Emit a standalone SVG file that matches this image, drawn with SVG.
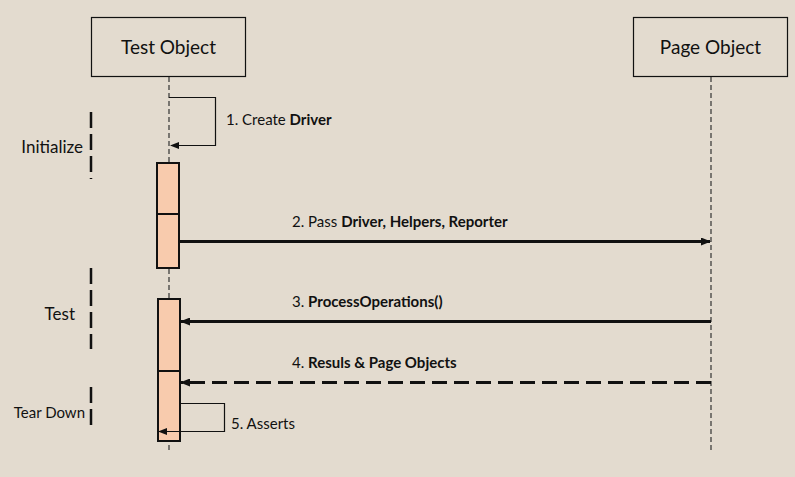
<svg xmlns="http://www.w3.org/2000/svg" width="795" height="477" viewBox="0 0 795 477">
<defs>
<style>
.t{font-family:Lato,"Open Sans","Liberation Sans",sans-serif;fill:#111}
.head{font-size:19px;text-anchor:middle}
.lbl{font-size:15px}
.sec{font-size:17px;text-anchor:end}
.box{fill:none;stroke:#111;stroke-width:1.2}
.life{stroke:#333;stroke-width:1.2;stroke-dasharray:5 3;fill:none}
.act{fill:#F8CBAD;stroke:#111;stroke-width:2}
.br{stroke:#111;stroke-width:2.5;stroke-dasharray:16 6;fill:none}
.msg{stroke:#111;stroke-width:3;fill:none}
.self{stroke:#111;stroke-width:1.2;fill:none}
</style>
<marker id="ah" markerWidth="10" markerHeight="8" refX="9" refY="4" orient="auto" markerUnits="userSpaceOnUse">
<path d="M0,0 L10,4 L0,8 z" fill="#111"/>
</marker>
<marker id="ahs" markerWidth="9" markerHeight="7" refX="8" refY="3.5" orient="auto" markerUnits="userSpaceOnUse">
<path d="M0,0 L9,3.5 L0,7 z" fill="#111"/>
</marker>
</defs>
<rect width="795" height="477" fill="#E3DBCF"/>

<g id="test-object">
<rect class="box" x="91.5" y="17.5" width="154" height="59"/>
<text class="t head" x="168.5" y="53.5">Test Object</text>
<line class="life" x1="169" y1="77" x2="169" y2="453"/>
</g>

<g id="page-object">
<rect class="box" x="633.5" y="17.5" width="154" height="59"/>
<text class="t head" x="710.5" y="53.5">Page Object</text>
<line class="life" x1="711" y1="77" x2="711" y2="453"/>
</g>

<g id="activation-1">
<rect class="act" x="157" y="163" width="22" height="105"/>
<line x1="157" y1="214" x2="179" y2="214" stroke="#111" stroke-width="2"/>
</g>

<g id="activation-2">
<rect class="act" x="158" y="299" width="22" height="142"/>
<line x1="158" y1="371" x2="180" y2="371" stroke="#111" stroke-width="2"/>
</g>

<g id="section-initialize">
<line class="br" x1="91" y1="112" x2="91" y2="179"/>
<text class="t sec" x="83" y="153">Initialize</text>
</g>
<g id="section-test">
<line class="br" x1="91" y1="268" x2="91" y2="349"/>
<text class="t sec" x="75" y="320">Test</text>
</g>
<g id="section-teardown">
<line class="br" x1="91" y1="387" x2="91" y2="426"/>
<text class="t sec" x="85" y="418" style="font-size:15px">Tear Down</text>
</g>

<g id="connectors">
<polyline class="self" points="169,97.5 215.5,97.5 215.5,145.5 171,145.5" marker-end="url(#ahs)"/>
<line class="msg" x1="180" y1="241.5" x2="710" y2="241.5" marker-end="url(#ah)"/>
<line class="msg" x1="711" y1="321.5" x2="181" y2="321.5" marker-end="url(#ah)"/>
<line class="msg" x1="711" y1="382.5" x2="181" y2="382.5" stroke-dasharray="15 7" stroke-width="2.5" marker-end="url(#ah)"/>
<polyline class="self" points="179,403.5 224.5,403.5 224.5,431.5 159,431.5" marker-end="url(#ahs)"/>
</g>

<g id="labels">
<text class="t lbl" x="226" y="125">1. Create <tspan font-weight="bold">Driver</tspan></text>
<text class="t lbl" x="292" y="227">2. Pass <tspan font-weight="bold">Driver, Helpers, Reporter</tspan></text>
<text class="t lbl" x="292" y="307">3. <tspan font-weight="bold">ProcessOperations()</tspan></text>
<text class="t lbl" x="292" y="368">4. <tspan font-weight="bold">Resuls &amp; Page Objects</tspan></text>
<text class="t lbl" x="231" y="429">5. Asserts</text>
</g>
</svg>
